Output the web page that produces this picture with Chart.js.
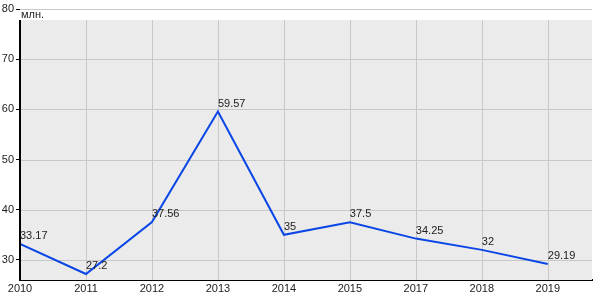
<!DOCTYPE html>
<html>
<head>
<meta charset="utf-8">
<script src="https://cdn.jsdelivr.net/npm/chart.js@4"></script>
<style>
  body { margin: 0; background: #fff; }
  #wrap { width: 600px; height: 300px; }
</style>
</head>
<body>
<div id="wrap"><canvas id="chart"></canvas></div>
<script>
const years = ['2010', '2011', '2012', '2013', '2014', '2015', '2017', '2018', '2019']
const values = [33.17, 27.2, 37.56, 59.57, 35, 37.5, 34.25, 32, 29.19]
const yTicks = [30, 40, 50, 60, 70, 80]
const unitLabel = 'млн.'

const font = { family: 'Liberation Sans, Arial, sans-serif', size: 11 }

// gray plot background with its own vertical grid, black left axis, unit caption, point labels
const decor = {
  id: 'decor',
  beforeDatasetsDraw(chart) {
    const { ctx, chartArea, scales } = chart
    const top = Math.round(scales.y.getPixelForValue(77.8))
    ctx.save()
    ctx.fillStyle = '#ebebeb'
    ctx.fillRect(chartArea.left, top, chartArea.right - chartArea.left, chartArea.bottom - top)

    ctx.strokeStyle = '#c8c8c8'
    ctx.lineWidth = 1
    years.forEach((y, i) => {
      const x = Math.round(scales.x.getPixelForValue(i)) + 0.5
      ctx.beginPath()
      ctx.moveTo(x, top)
      ctx.lineTo(x, chartArea.bottom)
      ctx.stroke()
    })
    yTicks.forEach(v => {
      if (v > 77.8) return
      const y = Math.round(scales.y.getPixelForValue(v)) + 0.5
      ctx.beginPath()
      ctx.moveTo(chartArea.left, y)
      ctx.lineTo(chartArea.right, y)
      ctx.stroke()
    })
    ctx.restore()
  },
  afterDatasetsDraw(chart) {
    const { ctx, chartArea, scales } = chart
    const top = Math.round(scales.y.getPixelForValue(77.8))
    ctx.save()
    ctx.strokeStyle = '#000'
    ctx.lineWidth = 2
    ctx.beginPath()
    ctx.moveTo(chartArea.left, top)
    ctx.lineTo(chartArea.left, chartArea.bottom)
    ctx.stroke()

    ctx.fillStyle = '#222'
    ctx.font = `${font.size}px ${font.family}`
    ctx.textBaseline = 'top'
    ctx.textAlign = 'left'
    ctx.fillText(unitLabel, chartArea.left + 1, chartArea.top)

    ctx.textBaseline = 'alphabetic'
    const meta = chart.getDatasetMeta(0)
    meta.data.forEach((pt, i) => {
      ctx.fillText(String(values[i]), pt.x, pt.y - 5)
    })
    ctx.restore()
  }
}

new Chart(document.getElementById('chart'), {
  type: 'line',
  data: {
    datasets: [{
      data: values.map((v, i) => ({ x: i, y: v })),
      borderColor: '#0a46e6',
      borderWidth: 2,
      pointRadius: 0,
      tension: 0
    }]
  },
  options: {
    responsive: true,
    maintainAspectRatio: false,
    animation: false,
    layout: { padding: { top: 9, right: 8, left: 0, bottom: 0 } },
    plugins: { legend: { display: false }, tooltip: { enabled: false } },
    scales: {
      x: {
        type: 'linear',
        min: 0,
        max: 8.67,
        afterBuildTicks: s => { s.ticks = years.map((y, i) => ({ value: i })) },
        afterFit: s => { s.height = 20 },
        ticks: {
          callback: v => years[v],
          color: '#222',
          font,
          padding: 2,
          maxRotation: 0,
          autoSkip: false
        },
        grid: { color: 'rgba(0,0,0,0)', drawTicks: false },
        border: { color: '#000', width: 2 }
      },
      y: {
        min: 26,
        max: 80,
        afterBuildTicks: s => { s.ticks = yTicks.map(v => ({ value: v })) },
        afterFit: s => { s.width = 20 },
        ticks: { color: '#222', font, padding: 2 },
        grid: {
          color: ctx => (ctx.tick && ctx.tick.value === 80 ? '#c8c8c8' : 'rgba(0,0,0,0)'),
          tickColor: '#000',
          tickLength: 4
        },
        border: { display: false }
      }
    }
  },
  plugins: [decor]
})
</script>
</body>
</html>
